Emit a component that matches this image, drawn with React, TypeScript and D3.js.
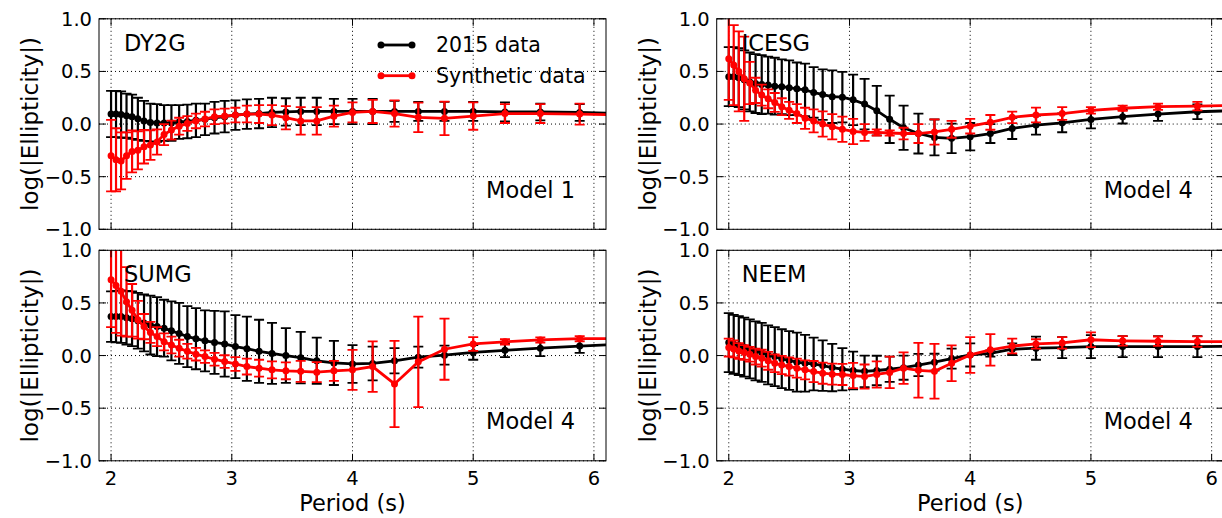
import * as d3 from 'd3';
import React, {useRef, useEffect} from 'react';

// periods (s) of the measured ellipticities
const periods = [2.000, 2.041, 2.083, 2.128, 2.174, 2.222, 2.273, 2.326, 2.381, 2.439, 2.500, 2.564, 2.632, 2.703, 2.778, 2.857, 2.941, 3.030, 3.125, 3.226, 3.333, 3.448, 3.571, 3.704, 3.846, 4.000, 4.167, 4.348, 4.545, 4.762, 5.000, 5.263, 5.556, 5.882, 6.250];

const stationNames = ['DY2G', 'ICESG', 'SUMG', 'NEEM'];
const modelNames = ['Model 1', 'Model 4', 'Model 4', 'Model 4'];
const seriesNames = ['2015 data', 'Synthetic data'];
const yTicks = [-1.0, -0.5, 0.0, 0.5, 1.0];
const xTicks = [2, 3, 4, 5, 6];

// DY2G
const dy2gObs = [0.095, 0.095, 0.09, 0.08, 0.07, 0.05, 0.03, 0.015, 0.01, 0.01, 0.01, 0.02, 0.025, 0.035, 0.045, 0.06, 0.07, 0.085, 0.095, 0.10, 0.11, 0.115, 0.12, 0.12, 0.12, 0.12, 0.12, 0.12, 0.12, 0.12, 0.12, 0.115, 0.115, 0.11, 0.10];
const dy2gObsErr = [0.22, 0.22, 0.22, 0.21, 0.21, 0.20, 0.19, 0.18, 0.18, 0.17, 0.17, 0.16, 0.16, 0.16, 0.15, 0.15, 0.15, 0.14, 0.14, 0.14, 0.14, 0.13, 0.13, 0.13, 0.12, 0.12, 0.12, 0.10, 0.09, 0.09, 0.09, 0.09, 0.08, 0.08, 0.08];
const dy2gSyn = [-0.30, -0.34, -0.35, -0.30, -0.26, -0.25, -0.215, -0.20, -0.17, -0.10, -0.057, -0.02, 0.006, 0.03, 0.047, 0.07, 0.076, 0.085, 0.095, 0.095, 0.085, 0.06, 0.03, 0.03, 0.075, 0.11, 0.12, 0.10, 0.064, 0.054, 0.076, 0.10, 0.10, 0.095, 0.085];
const dy2gSynErr = [0.34, 0.30, 0.27, 0.22, 0.20, 0.18, 0.16, 0.14, 0.12, 0.10, 0.09, 0.08, 0.07, 0.07, 0.07, 0.07, 0.07, 0.07, 0.08, 0.085, 0.095, 0.11, 0.13, 0.13, 0.10, 0.095, 0.11, 0.125, 0.14, 0.16, 0.13, 0.09, 0.09, 0.10, 0.10];

// ICESG
const icesgObs = [0.45, 0.45, 0.44, 0.42, 0.40, 0.385, 0.375, 0.37, 0.36, 0.355, 0.345, 0.335, 0.325, 0.30, 0.28, 0.26, 0.255, 0.23, 0.19, 0.127, 0.045, -0.035, -0.09, -0.127, -0.136, -0.12, -0.09, -0.042, -0.01, 0.012, 0.044, 0.07, 0.095, 0.117, 0.13];
const icesgObsErr = [0.28, 0.28, 0.28, 0.28, 0.28, 0.28, 0.28, 0.27, 0.27, 0.26, 0.26, 0.25, 0.25, 0.24, 0.24, 0.25, 0.24, 0.24, 0.24, 0.235, 0.225, 0.21, 0.19, 0.17, 0.14, 0.13, 0.09, 0.10, 0.09, 0.09, 0.085, 0.065, 0.065, 0.07, 0.07];
const icesgSyn = [0.62, 0.56, 0.50, 0.43, 0.39, 0.32, 0.275, 0.24, 0.205, 0.165, 0.13, 0.10, 0.055, 0.03, 0.0, -0.025, -0.05, -0.07, -0.08, -0.08, -0.085, -0.09, -0.09, -0.075, -0.05, -0.02, 0.016, 0.064, 0.086, 0.10, 0.13, 0.15, 0.165, 0.17, 0.18];
const icesgSynErr = [0.39, 0.38, 0.38, 0.40, 0.20, 0.12, 0.10, 0.09, 0.09, 0.08, 0.08, 0.09, 0.10, 0.11, 0.12, 0.12, 0.12, 0.12, 0.08, 0.03, 0.025, 0.055, 0.09, 0.12, 0.08, 0.07, 0.07, 0.055, 0.07, 0.06, 0.03, 0.025, 0.03, 0.04, 0.04];

// SUMG
const sumgObs = [0.37, 0.37, 0.37, 0.36, 0.35, 0.33, 0.31, 0.29, 0.275, 0.26, 0.235, 0.21, 0.18, 0.16, 0.14, 0.125, 0.11, 0.085, 0.065, 0.04, 0.02, 0.0, -0.02, -0.05, -0.07, -0.08, -0.075, -0.05, -0.015, 0.004, 0.03, 0.05, 0.07, 0.09, 0.11];
const sumgObsErr = [0.24, 0.245, 0.25, 0.255, 0.26, 0.265, 0.27, 0.28, 0.28, 0.27, 0.28, 0.29, 0.29, 0.29, 0.29, 0.30, 0.31, 0.30, 0.305, 0.30, 0.29, 0.26, 0.245, 0.22, 0.21, 0.18, 0.16, 0.12, 0.10, 0.09, 0.07, 0.065, 0.075, 0.065, 0.065];
const sumgSyn = [0.72, 0.665, 0.61, 0.51, 0.43, 0.34, 0.275, 0.22, 0.18, 0.13, 0.10, 0.07, 0.04, 0.013, -0.01, -0.035, -0.057, -0.08, -0.105, -0.12, -0.136, -0.145, -0.15, -0.158, -0.145, -0.136, -0.105, -0.27, -0.06, 0.06, 0.11, 0.13, 0.148, 0.16, 0.16];
const sumgSynErr = [0.45, 0.45, 0.42, 0.33, 0.25, 0.18, 0.12, 0.10, 0.09, 0.08, 0.08, 0.08, 0.07, 0.06, 0.06, 0.06, 0.06, 0.065, 0.075, 0.08, 0.08, 0.08, 0.10, 0.095, 0.095, 0.19, 0.24, 0.41, 0.43, 0.29, 0.065, 0.025, 0.025, 0.025, 0.025];

// NEEM
const neemObs = [0.123, 0.107, 0.095, 0.08, 0.063, 0.044, 0.03, 0.006, -0.01, -0.03, -0.047, -0.063, -0.073, -0.08, -0.095, -0.114, -0.13, -0.142, -0.15, -0.142, -0.13, -0.115, -0.09, -0.063, -0.03, 0.006, 0.02, 0.06, 0.07, 0.076, 0.085, 0.085, 0.085, 0.085, 0.09];
const neemObsErr = [0.28, 0.28, 0.28, 0.28, 0.28, 0.28, 0.28, 0.28, 0.28, 0.28, 0.28, 0.28, 0.27, 0.25, 0.24, 0.225, 0.20, 0.18, 0.15, 0.14, 0.12, 0.115, 0.105, 0.08, 0.095, 0.11, 0.03, 0.055, 0.11, 0.10, 0.11, 0.10, 0.10, 0.10, 0.10];
const neemSyn = [0.076, 0.063, 0.044, 0.03, 0.013, -0.01, -0.025, -0.05, -0.073, -0.09, -0.104, -0.12, -0.136, -0.152, -0.168, -0.177, -0.18, -0.19, -0.20, -0.18, -0.16, -0.12, -0.14, -0.15, -0.073, 0.006, 0.054, 0.09, 0.11, 0.12, 0.15, 0.14, 0.136, 0.133, 0.133];
const neemSynErr = [0.085, 0.08, 0.075, 0.07, 0.07, 0.075, 0.08, 0.085, 0.085, 0.087, 0.087, 0.09, 0.09, 0.10, 0.10, 0.10, 0.10, 0.12, 0.115, 0.125, 0.15, 0.15, 0.26, 0.26, 0.17, 0.17, 0.15, 0.07, 0.045, 0.055, 0.07, 0.045, 0.045, 0.05, 0.05];

const obsValues = [dy2gObs, icesgObs, sumgObs, neemObs];
const obsErrors = [dy2gObsErr, icesgObsErr, sumgObsErr, neemObsErr];
const synValues = [dy2gSyn, icesgSyn, sumgSyn, neemSyn];
const synErrors = [dy2gSynErr, icesgSynErr, sumgSynErr, neemSynErr];

const colors = ['#000000', '#ff0000'];
const font = "'DejaVu Sans', sans-serif";

function App() {
  const ref = useRef<SVGSVGElement>(null);

  useEffect(() => {
    const svg = d3.select(ref.current);
    svg.selectAll('*').remove();

    const width = 507, height = 210.5;
    const lefts = [99, 716.7, 99, 716.7];
    const tops = [18.8, 18.8, 250.3, 250.3];

    const x = d3.scaleLinear().domain([1.9, 6.1]).range([0, width]);
    const y = d3.scaleLinear().domain([-1, 1]).range([height, 0]);

    stationNames.forEach((name, p) => {
      const g = svg.append('g').attr('transform', `translate(${lefts[p]}, ${tops[p]})`);

      const clipId = `clip${p}`;
      g.append('clipPath').attr('id', clipId)
        .append('rect').attr('width', width).attr('height', height);

      // grid
      g.selectAll('.gx').data(xTicks).enter().append('line')
        .attr('x1', d => x(d)).attr('x2', d => x(d))
        .attr('y1', 0).attr('y2', height)
        .attr('stroke', '#000').attr('stroke-width', 1)
        .attr('stroke-dasharray', '1,3');
      g.selectAll('.gy').data(yTicks).enter().append('line')
        .attr('x1', 0).attr('x2', width)
        .attr('y1', d => y(d)).attr('y2', d => y(d))
        .attr('stroke', '#000').attr('stroke-width', 1)
        .attr('stroke-dasharray', '1,3');

      const data = g.append('g').attr('clip-path', `url(#${clipId})`);
      const sets = [[obsValues[p], obsErrors[p]], [synValues[p], synErrors[p]]];

      sets.forEach(([vals, errs], s) => {
        const pts = periods.map((t, i) => ({t, v: vals[i], e: errs[i]}));
        const c = colors[s];
        const eb = data.append('g');
        eb.selectAll('line.bar').data(pts).enter().append('line')
          .attr('x1', d => x(d.t)).attr('x2', d => x(d.t))
          .attr('y1', d => y(d.v - d.e)).attr('y2', d => y(d.v + d.e))
          .attr('stroke', c).attr('stroke-width', 2.2);
        [-1, 1].forEach(sign => {
          eb.selectAll(`line.cap${sign}`).data(pts).enter().append('line')
            .attr('x1', d => x(d.t) - 5).attr('x2', d => x(d.t) + 5)
            .attr('y1', d => y(d.v + sign * d.e)).attr('y2', d => y(d.v + sign * d.e))
            .attr('stroke', c).attr('stroke-width', 1.8);
        });
        data.append('path')
          .datum(pts)
          .attr('d', d3.line<any>().x(d => x(d.t)).y(d => y(d.v)))
          .attr('fill', 'none').attr('stroke', c).attr('stroke-width', 2.8);
        data.selectAll(null).data(pts).enter().append('circle')
          .attr('cx', d => x(d.t)).attr('cy', d => y(d.v)).attr('r', 3.5)
          .attr('fill', c);
      });

      // frame
      g.append('rect').attr('width', width).attr('height', height)
        .attr('fill', 'none').attr('stroke', '#000').attr('stroke-width', 1);

      // inward ticks on all sides
      const tl = 7;
      xTicks.forEach(t => {
        g.append('line').attr('x1', x(t)).attr('x2', x(t)).attr('y1', height).attr('y2', height - tl).attr('stroke', '#000');
        g.append('line').attr('x1', x(t)).attr('x2', x(t)).attr('y1', 0).attr('y2', tl).attr('stroke', '#000');
      });
      yTicks.forEach(t => {
        g.append('line').attr('x1', 0).attr('x2', tl).attr('y1', y(t)).attr('y2', y(t)).attr('stroke', '#000');
        g.append('line').attr('x1', width).attr('x2', width - tl).attr('y1', y(t)).attr('y2', y(t)).attr('stroke', '#000');
      });

      // y tick labels
      g.selectAll('.yl').data(yTicks).enter().append('text')
        .attr('x', -7).attr('y', d => y(d)).attr('dy', '0.36em')
        .attr('text-anchor', 'end')
        .style('font-family', font).style('font-size', '19.5px')
        .text(d => d3.format('.1f')(d));

      // x tick labels only on bottom row
      if (p >= 2) {
        g.selectAll('.xl').data(xTicks).enter().append('text')
          .attr('x', d => x(d)).attr('y', height + 24.5)
          .attr('text-anchor', 'middle')
          .style('font-family', font).style('font-size', '19.5px')
          .text(d => String(d));
        g.append('text')
          .attr('x', width / 2).attr('y', height + 50)
          .attr('text-anchor', 'middle')
          .style('font-family', font).style('font-size', '22.5px')
          .text('Period (s)');
      }

      g.append('text')
        .attr('transform', `translate(${38 - 99}, ${height / 2}) rotate(-90)`)
        .attr('text-anchor', 'middle')
        .style('font-family', font).style('font-size', '23px')
        .text('log(|Ellipticity|)');

      g.append('text')
        .attr('x', 25).attr('y', 32)
        .style('font-family', font).style('font-size', '22.5px')
        .text(name);
      g.append('text')
        .attr('x', 476).attr('y', 179)
        .attr('text-anchor', 'end')
        .style('font-family', font).style('font-size', '22.5px')
        .text(modelNames[p]);

      // legend in first panel
      if (p === 0) {
        seriesNames.forEach((s, i) => {
          const ly = 26.2 + i * 30.7;
          const lg = g.append('g');
          lg.append('line').attr('x1', 282).attr('x2', 313).attr('y1', ly).attr('y2', ly)
            .attr('stroke', colors[i]).attr('stroke-width', 2.8);
          [282, 313].forEach(cx => lg.append('circle').attr('cx', cx).attr('cy', ly).attr('r', 3.5).attr('fill', colors[i]));
          lg.append('text').attr('x', 337).attr('y', ly + 7.3)
            .style('font-family', font).style('font-size', '20.5px')
            .text(s);
        });
      }
    });
  }, []);

  return (
    <div className="chart">
      <svg ref={ref} width={1222} height={518}
        style={{position: 'absolute', left: 0, top: 0, background: '#fff'}}>
      </svg>
    </div>
  );
}

export default App;
